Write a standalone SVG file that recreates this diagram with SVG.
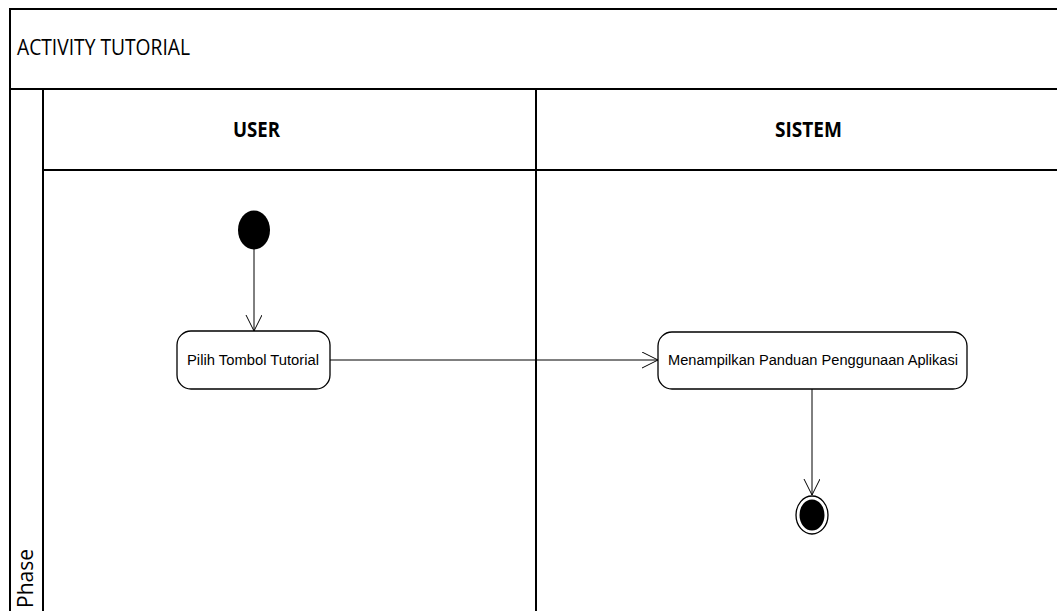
<svg xmlns="http://www.w3.org/2000/svg" width="1057" height="611" viewBox="0 0 1057 611">
<defs>
<style>
.frame{fill:none;stroke:#000;stroke-width:2}
.act{fill:#fff;stroke:#000;stroke-width:1.3}
.lbl{font-family:"Liberation Sans",Arial,sans-serif;font-size:14px;fill:#000}
.hdr{font-family:"Open Sans","Liberation Sans",sans-serif;font-size:21px;fill:#000}
.conn{fill:none;stroke:#000;stroke-width:1}
</style>
<marker id="open" markerWidth="20" markerHeight="20" refX="16" refY="8" orient="auto" markerUnits="userSpaceOnUse">
<path d="M0,0 L16,8 L0,16" fill="none" stroke="#000" stroke-width="1"/>
</marker>
</defs>
<rect width="1057" height="611" fill="#fff"/>
<g id="frame">
<path class="frame" d="M1057,9 H10 V611 M10,89 H1057 M43,89 V611 M43,170 H1057 M536,89 V611"/>
<text class="hdr" x="17" y="55" textLength="173" lengthAdjust="spacingAndGlyphs">ACTIVITY TUTORIAL</text>
<text class="hdr" x="233" y="137" font-weight="bold" textLength="47" lengthAdjust="spacingAndGlyphs">USER</text>
<text class="hdr" x="775" y="137" font-weight="bold" textLength="67" lengthAdjust="spacingAndGlyphs">SISTEM</text>
<text class="hdr" transform="translate(33,608) rotate(-90)" textLength="59" lengthAdjust="spacingAndGlyphs">Phase</text>
</g>
<g id="connectors">
<line class="conn" x1="254" y1="249" x2="254" y2="331" marker-end="url(#open)"/>
<line class="conn" x1="330" y1="360" x2="658" y2="360" marker-end="url(#open)"/>
<line class="conn" x1="812" y1="389" x2="812" y2="495" marker-end="url(#open)"/>
</g>
<g id="start">
<ellipse cx="254" cy="230" rx="16" ry="19.5" fill="#000"/>
</g>
<g id="pilih">
<rect class="act" x="177" y="331" width="153" height="58" rx="14"/>
<text class="lbl" x="253" y="365" text-anchor="middle" textLength="132" lengthAdjust="spacingAndGlyphs">Pilih Tombol Tutorial</text>
</g>
<g id="menampilkan">
<rect class="act" x="658" y="332" width="309" height="57" rx="14"/>
<text class="lbl" x="813" y="365" text-anchor="middle" textLength="290" lengthAdjust="spacingAndGlyphs">Menampilkan Panduan Penggunaan Aplikasi</text>
</g>
<g id="end">
<ellipse cx="812" cy="515" rx="16" ry="19" fill="#fff" stroke="#000" stroke-width="1.3"/>
<ellipse cx="812" cy="515" rx="12.5" ry="15.5" fill="#000"/>
</g>
</svg>
